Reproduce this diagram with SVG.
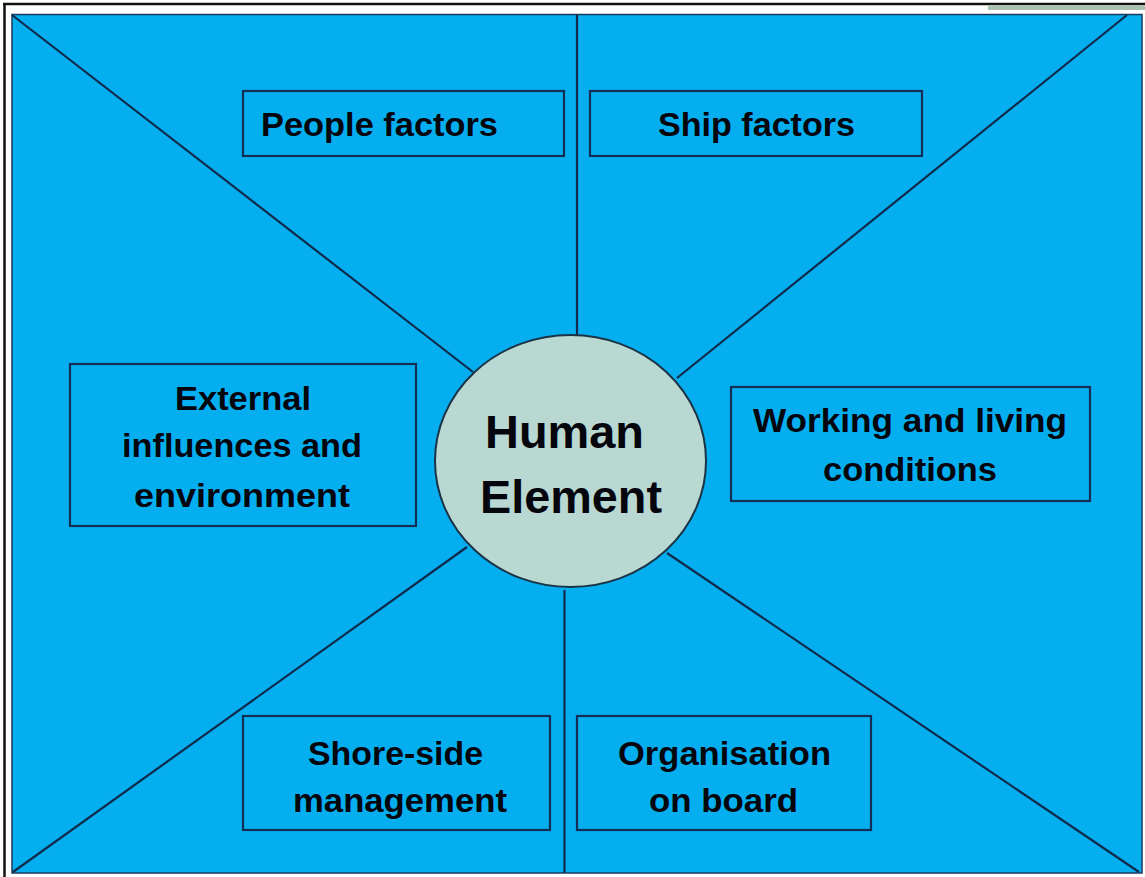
<svg xmlns="http://www.w3.org/2000/svg" width="1145" height="877" viewBox="0 0 1145 877">
<style>
.box{fill:none;stroke:#142f55;stroke-width:2.2}
.ln{stroke:#102a4c;stroke-width:2.2;fill:none}
.t{font-family:"Liberation Sans",Arial,sans-serif;font-weight:bold;font-size:34px;fill:#05050d;text-anchor:middle}
.h{font-size:46px}
</style>
<rect x="0" y="0" width="1145" height="877" fill="#ffffff"/>
<line x1="3" y1="4" x2="1145" y2="4" stroke="#111" stroke-width="2.5"/>
<line x1="4.5" y1="4" x2="4.5" y2="877" stroke="#111" stroke-width="2.5"/>
<rect x="988" y="5.5" width="157" height="4.5" fill="#a8c2ad"/>
<rect id="background" x="12" y="14.5" width="1130" height="858.5" fill="#05aeef" stroke="#1a3a5e" stroke-width="1.5"/>
<g id="connectors">
<line class="ln" x1="12" y1="15" x2="473" y2="372"/>
<line class="ln" x1="1127" y1="15" x2="677" y2="378"/>
<line class="ln" x1="13" y1="872" x2="467" y2="547"/>
<line class="ln" x1="1139" y1="872" x2="667" y2="553"/>
<line class="ln" x1="577" y1="15" x2="577" y2="336"/>
<line class="ln" x1="564.5" y1="590" x2="564.5" y2="873"/>
</g>
<g id="human-element">
<ellipse cx="570.5" cy="461" rx="135.5" ry="126" fill="#b9d8d2" stroke="#1a3346" stroke-width="2"/>
<text class="t h" x="564.5" y="448" textLength="159" lengthAdjust="spacingAndGlyphs">Human</text>
<text class="t h" x="571" y="513" textLength="182" lengthAdjust="spacingAndGlyphs">Element</text>
</g>
<g id="people-factors">
<rect class="box" x="243" y="91" width="321" height="65"/>
<text class="t" x="379.5" y="136" textLength="237" lengthAdjust="spacingAndGlyphs">People factors</text>
</g>
<g id="ship-factors">
<rect class="box" x="590" y="91" width="332" height="65"/>
<text class="t" x="756.5" y="136" textLength="197" lengthAdjust="spacingAndGlyphs">Ship factors</text>
</g>
<g id="external-influences">
<rect class="box" x="70" y="364" width="346" height="162"/>
<text class="t" x="243" y="410" textLength="136" lengthAdjust="spacingAndGlyphs">External</text>
<text class="t" x="242" y="457" textLength="240" lengthAdjust="spacingAndGlyphs">influences and</text>
<text class="t" x="242" y="507" textLength="216" lengthAdjust="spacingAndGlyphs">environment</text>
</g>
<g id="working-living">
<rect class="box" x="731" y="387" width="359" height="114"/>
<text class="t" x="910" y="432" textLength="314" lengthAdjust="spacingAndGlyphs">Working and living</text>
<text class="t" x="910" y="481" textLength="174" lengthAdjust="spacingAndGlyphs">conditions</text>
</g>
<g id="shore-side">
<rect class="box" x="243" y="716" width="307" height="114"/>
<text class="t" x="395.5" y="765" textLength="175" lengthAdjust="spacingAndGlyphs">Shore-side</text>
<text class="t" x="400" y="812" textLength="214" lengthAdjust="spacingAndGlyphs">management</text>
</g>
<g id="organisation">
<rect class="box" x="577" y="716" width="294" height="114"/>
<text class="t" x="724.5" y="765" textLength="213" lengthAdjust="spacingAndGlyphs">Organisation</text>
<text class="t" x="723.5" y="812" textLength="149" lengthAdjust="spacingAndGlyphs">on board</text>
</g>
</svg>
